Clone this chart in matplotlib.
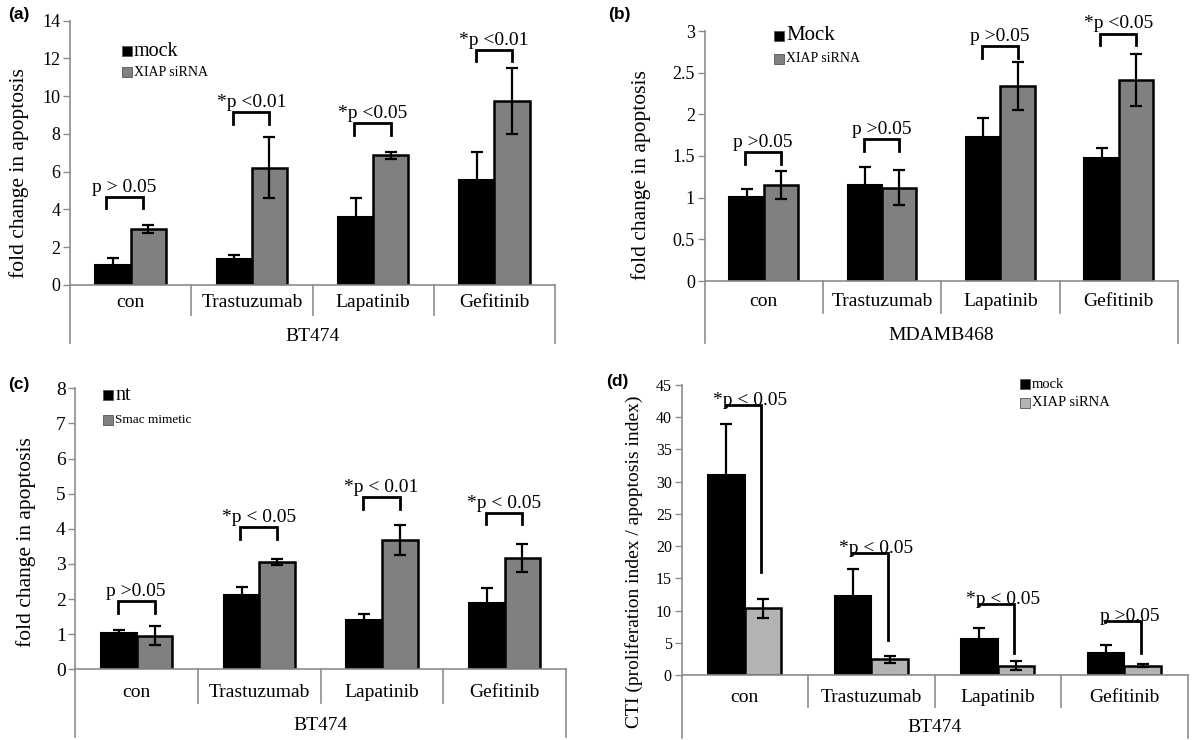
import numpy as np
import matplotlib
matplotlib.use("Agg")
import matplotlib.pyplot as plt
from matplotlib.patches import Rectangle

plt.rcParams['font.family'] = ['Liberation Serif', 'DejaVu Serif']

W, H = 1200, 740

categories = ["con", "Trastuzumab", "Lapatinib", "Gefitinib"]

# (a) BT474, XIAP siRNA
a_mock = [1.06, 1.36, 3.62, 5.57]
a_mock_err = [0.39, 0.23, 0.99, 1.48]
a_xiap = [2.95, 6.22, 6.86, 9.74]
a_xiap_err = [0.22, 1.63, 0.21, 1.75]
a_brk = [4.68, 9.15, 8.57, 12.46]
a_p = ["p > 0.05", "*p <0.01", "*p <0.05", "*p <0.01"]

# (b) MDAMB468, XIAP siRNA
b_mock = [1.01, 1.15, 1.73, 1.48]
b_mock_err = [0.10, 0.22, 0.23, 0.12]
b_xiap = [1.15, 1.12, 2.34, 2.41]
b_xiap_err = [0.17, 0.21, 0.29, 0.31]
b_brk = [1.55, 1.70, 2.82, 2.97]
b_p = ["p >0.05", "p >0.05", "p >0.05", "*p <0.05"]

# (c) BT474, Smac mimetic
c_nt = [1.02, 2.12, 1.39, 1.88]
c_nt_err = [0.10, 0.23, 0.18, 0.43]
c_smac = [0.96, 3.05, 3.68, 3.16]
c_smac_err = [0.26, 0.09, 0.44, 0.40]
c_brk = [1.95, 4.04, 4.91, 4.46]
c_p = ["p >0.05", "*p < 0.05", "*p < 0.01", "*p < 0.05"]

# (d) BT474, CTI
d_mock = [31.0, 12.2, 5.64, 3.41]
d_mock_err = [7.95, 4.25, 1.6, 1.3]
d_xiap = [10.35, 2.43, 1.45, 1.45]
d_xiap_err = [1.45, 0.52, 0.65, 0.28]
d_brk = [41.9, 19.0, 11.0, 8.4]
d_brk_low = [16.0, 5.4, 3.4, 3.4]
d_p = ["*p < 0.05", "*p < 0.05", "*p < 0.05", "p >0.05"]

fig = plt.figure(figsize=(12, 7.4), dpi=100)

AXCOL = '#8c8c8c'
bw = 0.29


def make_ax(x0, x1, ytop, y0):
    return fig.add_axes([x0 / W, 1 - y0 / H, (x1 - x0) / W, (y0 - ytop) / H])


def panel(ax, s1, e1, s2, e2, col2, ymax, ystep, group, ybot, ysep, y0, ytop,
          tick_fs, cat_off, grp_off):
    x = np.arange(len(categories))
    ax.bar(x - bw / 2, s1, bw, color='black', edgecolor='black', lw=1.5, zorder=2)
    ax.bar(x + bw / 2, s2, bw, color=col2, edgecolor='black', lw=1.8, zorder=2)
    ax.errorbar(x - bw / 2, s1, yerr=e1, fmt='none', ecolor='black', elinewidth=1.6,
                capsize=4, capthick=1.6, zorder=3)
    ax.errorbar(x + bw / 2, s2, yerr=e2, fmt='none', ecolor='black', elinewidth=1.6,
                capsize=4, capthick=1.6, zorder=3)
    ax.set_xlim(-0.5, len(categories) - 0.5)
    ax.set_ylim(0, ymax)
    ax.set_yticks(np.arange(0, ymax + ystep / 2, ystep))
    ax.yaxis.set_major_formatter(matplotlib.ticker.FormatStrFormatter('%g'))
    ax.tick_params(axis='y', labelsize=tick_fs, color=AXCOL, length=5, width=1, pad=2)
    ax.set_xticks([])
    for s in ax.spines.values():
        s.set_visible(False)
    tr = ax.get_xaxis_transform()
    hpx = y0 - ytop
    fb = -(ybot - y0) / hpx
    fs = -(ysep - y0) / hpx
    ax.plot([-0.5, -0.5], [fb, 1], color=AXCOL, lw=1.2, transform=tr, clip_on=False)
    ax.plot([3.5, 3.5], [fb, 0], color=AXCOL, lw=1.2, transform=tr, clip_on=False)
    ax.plot([-0.5, 3.5], [0, 0], color=AXCOL, lw=1.2, transform=tr, clip_on=False)
    for k in range(1, len(categories)):
        ax.plot([k - 0.5, k - 0.5], [fs, 0], color=AXCOL, lw=1.2, transform=tr, clip_on=False)
    for i, c in enumerate(categories):
        ax.annotate(c, xy=(i, 0), xytext=(0, -cat_off), textcoords='offset pixels',
                    ha='center', va='center', fontsize=14)
    ax.annotate(group, xy=(1.5, 0), xytext=(0, -grp_off), textcoords='offset pixels',
                ha='center', va='center', fontsize=14)


def brackets(ax, tops, labels, ymax, hpx, shift=None):
    leg = 11.7 / hpx * ymax
    for i, (t, lab) in enumerate(zip(tops, labels)):
        sh = shift[i] if shift else 0
        xl, xr = i - 0.155 + sh, i + 0.145 + sh
        ax.plot([xl, xl, xr, xr], [t - leg, t, t, t - leg], color='black', lw=2,
                solid_joinstyle='miter', zorder=4)
        ax.annotate(lab, xy=((xl + xr) / 2, t), xytext=(0, 1), textcoords='offset pixels',
                    ha='center', va='bottom', fontsize=14)


def legend(x, y1, y2, lab1, lab2, col2, fs1, fs2, sq=10):
    for yy, lab, col, fs in [(y1, lab1, 'black', fs1), (y2, lab2, col2, fs2)]:
        fig.patches.append(Rectangle((x / W, 1 - (yy + sq / 2) / H), sq / W, sq / H,
                                     transform=fig.transFigure, facecolor=col,
                                     edgecolor='#555555', lw=0.6))
        fig.text((x + sq + 2) / W, 1 - yy / H, lab, fontsize=fs, va='center', ha='left')


# (a)
ax = make_ax(70, 555, 20.7, 285)
panel(ax, a_mock, a_mock_err, a_xiap, a_xiap_err, '#808080', 14, 2, "BT474",
      343, 315, 285, 20.7, 13, 18, 52)
brackets(ax, a_brk, a_p, 14, 264.3, shift=[-0.045, 0, 0, 0])
ax.set_ylabel("fold change in apoptosis", fontsize=15.5)
ax.yaxis.set_label_coords(-0.085, 0.424)
legend(122, 51, 72, "mock", "XIAP siRNA", '#808080', 14.5, 10)

# (b)
ax = make_ax(704.5, 1178, 31, 281)
panel(ax, b_mock, b_mock_err, b_xiap, b_xiap_err, '#808080', 3, 0.5, "MDAMB468",
      343, 313, 281, 31, 13, 21, 54)
brackets(ax, b_brk, b_p, 3, 250)
ax.set_ylabel("fold change in apoptosis", fontsize=15.5)
ax.yaxis.set_label_coords(-0.113, 0.424)
legend(774, 36, 58.5, "Mock", "XIAP siRNA", '#808080', 15, 10)

# (c)
ax = make_ax(75.4, 566, 388.3, 669.3)
panel(ax, c_nt, c_nt_err, c_smac, c_smac_err, '#808080', 8, 1, "BT474",
      736.7, 703, 669.3, 388.3, 14, 23, 56)
brackets(ax, c_brk, c_p, 8, 281)
ax.set_ylabel("fold change in apoptosis", fontsize=15.5)
ax.yaxis.set_label_coords(-0.080, 0.453)
legend(103, 395, 420, "nt", "Smac mimetic", '#808080', 14.5, 9.5)

# (d)
ax = make_ax(681.5, 1187.5, 385, 675)
panel(ax, d_mock, d_mock_err, d_xiap, d_xiap_err, '#b3b3b3', 45, 5, "BT474",
      738, 707, 675, 385, 11.5, 23, 53)
for i, (t, lo, lab) in enumerate(zip(d_brk, d_brk_low, d_p)):
    xl, xr = i - 0.15, i + 0.13
    ax.plot([xl, xl, xr, xr], [t - 0.2, t, t, lo], color='black', lw=2,
            solid_joinstyle='miter', zorder=4)
    ax.annotate(lab, xy=((xl + xr) / 2 + 0.05, t), xytext=(0, -4), textcoords='offset pixels',
                ha='center', va='bottom', fontsize=14)
ax.set_ylabel("CTI (proliferation index / apoptosis index)", fontsize=14)
ax.yaxis.set_label_coords(-0.076, 0.39)
legend(1020, 384, 403, "mock", "XIAP siRNA", '#b3b3b3', 10.5, 10.5)

# panel letters
for lx, ly, t in [(8, 14, "(a)"), (608, 14, "(b)"), (8, 384, "(c)"), (606, 382, "(d)")]:
    fig.text(lx / W, 1 - ly / H, t, fontsize=12.5, fontweight='bold',
             family=['Liberation Sans', 'DejaVu Sans'], va='center', ha='left')

fig.savefig("out.png", dpi=100)
